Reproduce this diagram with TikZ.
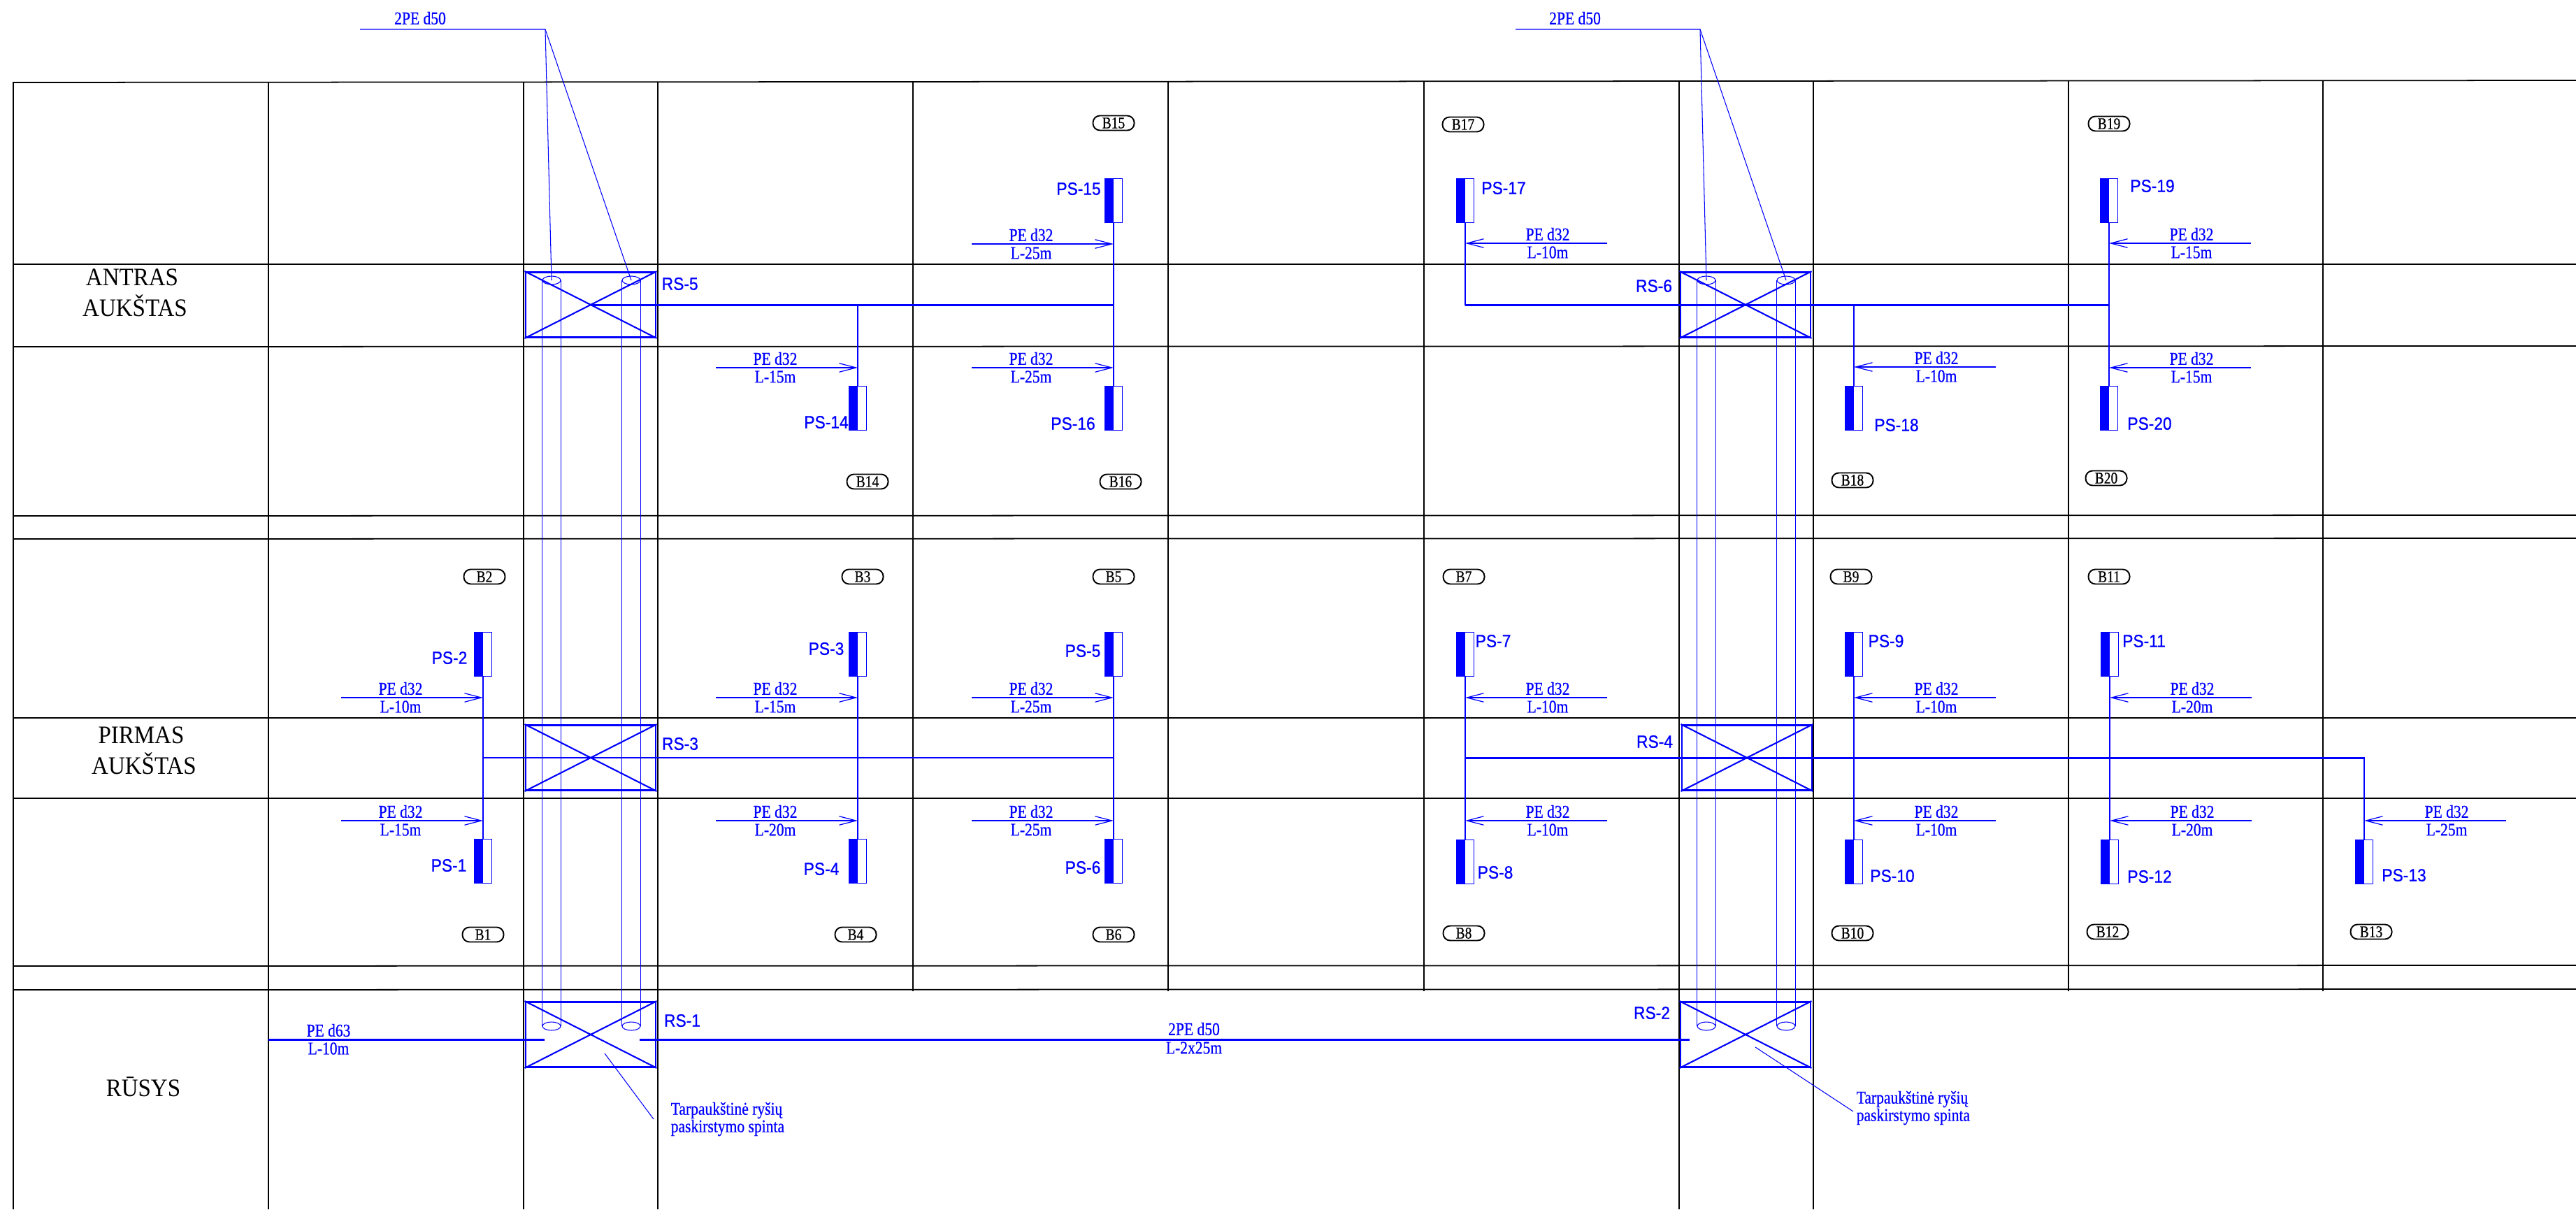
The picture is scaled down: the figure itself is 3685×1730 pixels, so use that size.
\documentclass[tikz,border=0pt]{standalone}
\usepackage{fontspec}
\usepackage{tikz}
\usetikzlibrary{arrows.meta,shapes.geometric}
\setmainfont{Liberation Serif}
\newfontfamily\floorserif[FakeStretch=0.92]{Liberation Serif}
\newfontfamily\cadserif[FakeStretch=0.84,FakeBold=0.6]{Liberation Serif}
\newfontfamily\cadsans[FakeStretch=0.9,FakeBold=0.7]{Liberation Sans}
\tikzset{
	gridline/.style={black, line width=0.5pt},
	mainpipe/.style={blue, line width=0.85pt},
	linkpipe/.style={blue, line width=0.55pt},
	branchpipe/.style={blue, line width=0.5pt},
	thinpipe/.style={blue, line width=0.3pt},
	pipearrow/.style={blue, line width=0.35pt, -{Straight Barb[length=0.24cm,width=0.125cm]}},
	cabinet/.style={draw=blue, line width=0.8pt, inner sep=0pt, minimum width=1.86cm, minimum height=0.93cm},
	crossline/.style={blue, line width=0.6pt},
	riserend/.style={draw=blue, ellipse, line width=0.3pt, inner sep=0pt, minimum width=0.26cm, minimum height=0.12cm},
	outlet/.style={draw=blue, line width=0.3pt, inner sep=0pt, minimum width=0.25cm, minimum height=0.63cm,
		path picture={\fill[blue] (path picture bounding box.south west) rectangle (path picture bounding box.north);}},
	roomtag/.style={draw=black, line width=0.55pt, rounded corners=0.1cm, inner sep=0pt, minimum width=0.59cm, minimum height=0.21cm, font=\cadserif\fontsize{6.6}{7}\selectfont},
	pstext/.style={blue, inner sep=0pt, font=\cadsans\fontsize{7.2}{8}\selectfont},
	pipetext/.style={blue, inner sep=0pt, font=\cadserif\fontsize{7.3}{7.1}\selectfont},
	floortext/.style={black, inner sep=0pt, anchor=base, font=\floorserif\fontsize{10.2}{12}\selectfont},
}
\begin{document}
\begin{tikzpicture}[x=0.01cm, y=-0.01cm]
	\useasboundingbox (0,0) rectangle (3685,1730);

	\foreach \yl/\yr in {118/115, 378/378, 496/495, 738/737, 771/770, 1027/1027, 1142/1142, 1382/1381, 1416/1415}
		\draw[gridline] (19,\yl) -- (3685,\yr);
	\foreach \x in {19, 384, 749, 941, 2402, 2594}
		\draw[gridline] (\x,117) -- (\x,1730);
	\foreach \x in {1306, 1671, 2037, 2959, 3323}
		\draw[gridline] (\x,116) -- (\x,1418);

	\node[floortext] (antras) at (189,408) {ANTRAS};
	\node[floortext] (antrasfloor) at (193,452) {AUKŠTAS};
	\node[floortext] (pirmas) at (202,1063) {PIRMAS};
	\node[floortext] (pirmasfloor) at (206,1107) {AUKŠTAS};
	\node[floortext] (rusys) at (205,1568) {RŪSYS};

	\foreach \n/\x/\y in {RS5/845/436, RS6/2497/436, RS3/845/1084, RS4/2499/1084, RS1/845/1480, RS2/2497/1480} {
		\node[cabinet] (\n) at (\x,\y) {};
		\draw[crossline] (\n.north west) -- (\n.south east);
		\draw[crossline] (\n.south west) -- (\n.north east);
	}
	\node[pstext, anchor=west] (RS5text) at (946,406) {RS-5};
	\node[pstext] (RS6text) at (2366,409) {RS-6};
	\node[pstext] (RS3text) at (973,1064) {RS-3};
	\node[pstext] (RS4text) at (2367,1061) {RS-4};
	\node[pstext] (RS1text) at (976,1460) {RS-1};
	\node[pstext] (RS2text) at (2363,1449) {RS-2};

	\foreach \n/\x/\y in {a/789/401, b/903/401, c/2441/401, d/2555/401} {
		\node[riserend] (top\n) at (\x,\y) {};
		\node[riserend] (bot\n) at (\x,1468) {};
		\draw[thinpipe] (top\n.west) -- (bot\n.west);
		\draw[thinpipe] (top\n.east) -- (bot\n.east);
	}

	\coordinate (riserleft) at (515,42);
	\coordinate (riserleftbend) at (780,42);
	\coordinate (riserright) at (2168,42);
	\coordinate (riserrightbend) at (2432,42);
	\draw[thinpipe] (riserleft) -- (riserleftbend) -- (topa.center);
	\draw[thinpipe] (riserleftbend) -- (topb.center);
	\draw[thinpipe] (riserright) -- (riserrightbend) -- (topc.center);
	\draw[thinpipe] (riserrightbend) -- (topd.center);
	\node[pipetext] (riserlefttext) at (601,26) {2PE d50};
	\node[pipetext] (riserrighttext) at (2253,26) {2PE d50};

	\foreach \n/\x/\y/\tx/\ty/\tagx/\tagy/\tagn in {
		15/1593/287/1543/270/1593/176/B15,
		14/1227/584/1182/604/1241/689/B14,
		16/1593/584/1535/606/1603/689/B16,
		17/2096/287/2151/269/2093/178/B17,
		18/2652/584/2713/608/2650/687/B18,
		19/3017/287/3079/266/3017/177/B19,
		20/3017/584/3075/606/3013/684/B20,
		2/691/936/643/941/693/825/B2,
		1/691/1232/642/1238/691/1337/B1,
		3/1227/936/1182/928/1234/825/B3,
		4/1227/1232/1175/1243/1224/1337/B4,
		5/1593/936/1549/931/1593/825/B5,
		6/1593/1232/1549/1241/1593/1337/B6,
		7/2096/936/2136/917/2094/825/B7,
		8/2096/1233/2139/1248/2094/1335/B8,
		9/2652/936/2698/917/2648/825/B9,
		10/2652/1233/2707/1253/2650/1335/B10,
		11/3018/936/3067/917/3017/825/B11,
		12/3018/1233/3075/1254/3015/1333/B12,
		13/3382/1233/3439/1252/3392/1333/B13} {
		\node[outlet] (PS\n) at (\x,\y) {};
		\node[pstext] (PS\n text) at (\tx,\ty) {PS-\n};
		\node[roomtag] (\tagn) at (\tagx,\tagy) {\tagn};
	}

	\draw[branchpipe] (PS15.south) -- (PS16.north);
	\draw[branchpipe] (PS19.south) -- (PS20.north);
	\draw[branchpipe] (PS17.south) |- (RS6.center);
	\draw[branchpipe] (PS18.north) |- (RS6.center);
	\draw[branchpipe] (PS14.north) |- (RS5.center);
	\draw[branchpipe] (PS2.south) -- (PS1.north);
	\draw[branchpipe] (PS3.south) -- (PS4.north);
	\draw[branchpipe] (PS5.south) -- (PS6.north);
	\draw[branchpipe] (PS7.south) -- (PS8.north);
	\draw[branchpipe] (PS9.south) -- (PS10.north);
	\draw[branchpipe] (PS11.south) -- (PS12.north);
	\draw[branchpipe] (PS13.north) |- (RS4.center);

	\draw[mainpipe] (RS5.center) -- (PS15.south |- RS5.center);
	\draw[mainpipe] (PS17.south |- RS6.center) -- (PS19.south |- RS6.center);
	\draw[linkpipe] (PS2.south |- RS3.center) -- (PS5.south |- RS3.center);
	\draw[mainpipe] (PS7.south |- RS4.center) -- (PS13.north |- RS4.center);

	\coordinate (feedin) at (384,1487);
	\coordinate (RS1in) at (779,1487);
	\coordinate (RS1out) at (915,1487);
	\coordinate (RS2in) at (2417,1487);
	\draw[mainpipe] (feedin) -- (RS1in);
	\draw[mainpipe] (RS1out) -- (RS2in);
	\node[pipetext] (feeddia) at (470,1474) {PE d63};
	\node[pipetext] (feedlen) at (470,1500) {L-10m};
	\node[pipetext] (linkdia) at (1708,1472) {2PE d50};
	\node[pipetext] (linklen) at (1708,1499) {L-2x25m};

	\foreach \n/\x/\y/\s/\l in {
		15/1593/349/-1/25, 14/1227/526/-1/15, 16/1593/526/-1/25,
		17/2096/348/1/10, 18/2652/525/1/10, 19/3017/348/1/15, 20/3017/526/1/15,
		2/691/998/-1/10, 1/691/1174/-1/15, 3/1227/998/-1/15, 4/1227/1174/-1/20,
		5/1593/998/-1/25, 6/1593/1174/-1/25, 7/2096/998/1/10, 8/2096/1174/1/10,
		9/2652/998/1/10, 10/2652/1174/1/10, 11/3018/998/1/20, 12/3018/1174/1/20,
		13/3382/1174/1/25} {
		\coordinate (tail\n) at ({\x+\s*203},\y);
		\coordinate (tip\n) at (\x,\y);
		\draw[pipearrow] (tail\n) -- (tip\n);
		\node[pipetext] (dia\n) at ({\x+\s*118},{\y-13}) {PE d32};
		\node[pipetext] (len\n) at ({\x+\s*118},{\y+13}) {L-\l m};
	}

	\coordinate (noteleftin) at (865,1507);
	\coordinate (noteleftout) at (935,1601);
	\coordinate (noterightin) at (2511,1498);
	\coordinate (noterightout) at (2651,1590);
	\draw[thinpipe] (noteleftin) -- (noteleftout);
	\draw[thinpipe] (noterightin) -- (noterightout);
	\node[pipetext, anchor=west, align=left] (noteleft) at (959,1601) {Tarpaukštinė ryšių\\ paskirstymo spinta};
	\node[pipetext, anchor=west, align=left] (noteright) at (2655,1585) {Tarpaukštinė ryšių\\ paskirstymo spinta};
\end{tikzpicture}
\end{document}
